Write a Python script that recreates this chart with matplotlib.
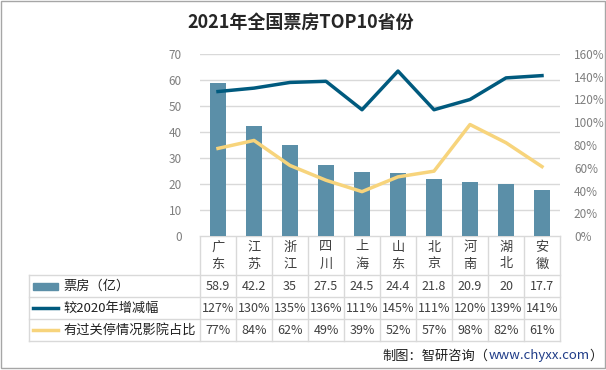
import matplotlib.pyplot as plt
import numpy as np
from matplotlib.patches import Rectangle
from matplotlib.ticker import FuncFormatter

plt.rcParams["font.family"] = ["Noto Sans CJK SC", "DejaVu Sans"]

provinces = ["广东", "江苏", "浙江", "四川", "上海", "山东", "北京", "河南", "湖北", "安徽"]
box_office = [58.9, 42.2, 35, 27.5, 24.5, 24.4, 21.8, 20.9, 20, 17.7]
growth_pct = [127, 130, 135, 136, 111, 145, 111, 120, 139, 141]
closed_pct = [77, 84, 62, 49, 39, 52, 57, 98, 82, 61]
series_names = ["票房（亿）", "较2020年增减幅", "有过关停情况影院占比"]

BAR_C = "#5B8FA8"
DARK_C = "#005A7E"
YEL_C = "#F7D47C"
GRID_C = "#D9D9D9"
TICK_C = "#7F7F7F"
TXT_C = "#404040"

W, H = 606, 370
fig = plt.figure(figsize=(W / 100, H / 100), dpi=100)

# overlay in pixel coords for table / frame
bg = fig.add_axes([0, 0, 1, 1])
bg.set_xlim(0, W)
bg.set_ylim(H, 0)
bg.axis("off")

# plot area: x 200-560, y 54-236 (pixels)
px0, px1, py0, py1 = 200, 560, 54, 236
ax = fig.add_axes([px0 / W, (H - py1) / H, (px1 - px0) / W, (py1 - py0) / H])
x = np.arange(len(provinces))
ax.bar(x, box_office, width=0.42, color=BAR_C, zorder=2)
ax.set_xlim(-0.5, len(provinces) - 0.5)
ax.set_ylim(0, 70)
ax.set_yticks(range(0, 71, 10))
ax.grid(axis="y", color=GRID_C, lw=1, zorder=0)
ax.set_xticks([])
for s in ax.spines.values():
    s.set_visible(False)
ax.tick_params(axis="y", length=0, labelsize=8.5, labelcolor=TICK_C, pad=13)

ax2 = ax.twinx()
ax2.plot(x, growth_pct, color=DARK_C, lw=2.5, zorder=3)
ax2.plot(x, closed_pct, color=YEL_C, lw=2.5, zorder=3)
ax2.set_ylim(0, 160)
ax2.set_yticks(range(0, 161, 20))
ax2.yaxis.set_major_formatter(FuncFormatter(lambda v, p: f"{v:.0f}%"))
for s in ax2.spines.values():
    s.set_visible(False)
ax2.tick_params(axis="y", length=0, labelsize=8.5, labelcolor=TICK_C, pad=10)

# category header (stacked characters) and table
cw = (px1 - px0) / len(provinces)
rows = [275, 297, 319, 341]
tbl_left = 29
lk = dict(color=GRID_C, lw=1)
bg.plot([px0, px1], [py1, py1], **lk)
for i in range(len(provinces) + 1):
    xx = px0 + i * cw
    bg.plot([xx, xx], [py1, rows[-1]], **lk)
bg.plot([tbl_left, tbl_left], [rows[0], rows[-1]], **lk)
for r in rows:
    bg.plot([tbl_left, px1], [r, r], **lk)

for i, name in enumerate(provinces):
    cx = px0 + (i + 0.5) * cw
    bg.text(cx, 247, name[0], ha="center", va="center", fontsize=9.5, color=TXT_C)
    bg.text(cx, 264, name[1], ha="center", va="center", fontsize=9.5, color=TXT_C)

table_vals = [
    [f"{v:g}" for v in box_office],
    [f"{v}%" for v in growth_pct],
    [f"{v}%" for v in closed_pct],
]
for r, vals in enumerate(table_vals):
    cy = (rows[r] + rows[r + 1]) / 2
    for i, s in enumerate(vals):
        bg.text(px0 + (i + 0.5) * cw, cy, s, ha="center", va="center",
                fontsize=9, color=TXT_C)

# legend keys in table
cy = [(rows[k] + rows[k + 1]) / 2 for k in range(3)]
bg.add_patch(Rectangle((33, cy[0] - 3.5), 25, 7, color=BAR_C))
bg.plot([33, 58], [cy[1], cy[1]], color=DARK_C, lw=2.5)
bg.plot([33, 58], [cy[2], cy[2]], color=YEL_C, lw=2.5)
for k, name in enumerate(series_names):
    bg.text(63, cy[k], name, ha="left", va="center", fontsize=9.5, color="#202020")

# title
bg.text(301, 22, "2021年全国票房TOP10省份", ha="center", va="center",
        fontsize=13, fontweight="bold", color="#262626")

# source, laid out right to left
inv = bg.transData.inverted()
t3 = bg.text(603, 356, "）", ha="right", va="center", fontsize=9.5, color="#202020")
fig.canvas.draw()
xs = inv.transform((t3.get_window_extent().x0, 0))[0]
t2 = bg.text(xs, 356, "www.chyxx.com", ha="right", va="center", fontsize=9.5, color="#1F3C88")
fig.canvas.draw()
xs = inv.transform((t2.get_window_extent().x0, 0))[0]
bg.text(xs, 356, "制图：智研咨询（", ha="right", va="center", fontsize=9.5, color="#202020")

# outer frame
bg.add_patch(Rectangle((0.5, 0.5), W - 1.5, H - 2.5, fill=False, ec="#A6A6A6", lw=1))

fig.savefig("out.png", dpi=100)
